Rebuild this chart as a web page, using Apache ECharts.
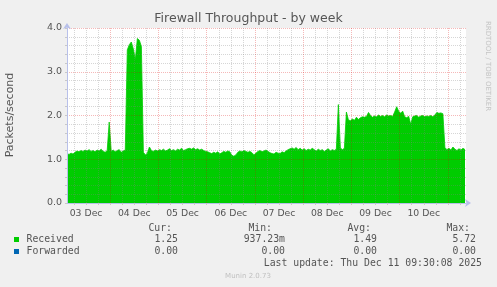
<!DOCTYPE html>
<html><head><meta charset="utf-8">
<script src="https://cdn.jsdelivr.net/npm/echarts@6.0.0/dist/echarts.min.js"></script>
<style>html,body{margin:0;padding:0;background:#f0f0f0;}#c{width:497px;height:287px;}</style>
</head><body><div id="c"></div>
<script>
// hours after 03 Dec 00:00 of the first sample; one sample per hour
const startHour = 2.5;
const stepHours = 1;
const endHour = 201;
const received = [
  1.13, 1.11, 1.14, 1.12, 1.16, 1.19, 1.17, 1.20, 1.18, 1.21,
  1.19, 1.22, 1.18, 1.20, 1.17, 1.21, 1.19, 1.23, 1.18, 1.16, 1.20,
  1.85,
  1.18, 1.21, 1.17, 1.20, 1.22, 1.16, 1.19, 1.21,
  3.50, 3.62, 3.68, 3.52, 3.28, 3.76, 3.72, 3.58,
  1.16, 1.10, 1.14, 1.28, 1.20,
  1.18, 1.21, 1.19, 1.22, 1.20, 1.23, 1.19, 1.21, 1.24, 1.20, 1.22, 1.19, 1.23, 1.21, 1.25, 1.20, 1.22, 1.24,
  1.25, 1.23, 1.26, 1.22, 1.24, 1.21, 1.23, 1.20, 1.18, 1.17,
  1.15, 1.13, 1.16, 1.14, 1.17, 1.12, 1.15, 1.18, 1.16, 1.19,
  1.17, 1.09, 1.07, 1.10, 1.16, 1.19, 1.17, 1.20, 1.18, 1.16,
  1.18, 1.15, 1.10, 1.14, 1.18, 1.20, 1.17, 1.19, 1.21, 1.18,
  1.15, 1.13, 1.12, 1.16, 1.14, 1.13, 1.17, 1.15, 1.19, 1.22,
  1.24, 1.26, 1.23, 1.27, 1.22, 1.25, 1.21, 1.24, 1.20, 1.23,
  1.21, 1.25, 1.22, 1.19, 1.23, 1.20, 1.22, 1.18, 1.21, 1.24, 1.19, 1.22, 1.20, 1.23,
  2.25,
  1.26, 1.22, 1.25,
  2.08,
  1.90, 1.88, 1.92, 1.89, 1.96, 1.91, 1.95, 1.97, 1.96, 1.98,
  2.07, 2.00, 1.96, 1.99, 1.97, 2.01, 1.98, 2.00, 1.97, 2.01,
  1.99, 2.00, 1.98, 2.08, 2.20, 2.10, 2.05, 2.10, 1.97, 1.95,
  1.98, 1.80, 1.97, 1.99, 2.00, 1.96, 1.99, 2.00, 1.97, 1.99,
  1.98, 2.00, 1.97, 2.01, 2.07, 2.05, 2.06, 2.04,
  1.27, 1.22, 1.25, 1.21, 1.28, 1.23, 1.20, 1.24, 1.21, 1.25, 1.22
];
const dayLabels = ['03 Dec', '04 Dec', '05 Dec', '06 Dec', '07 Dec', '08 Dec', '09 Dec', '10 Dec'];
const yMin = 0, yMax = 4, yStep = 1;
const statHeaders = ['Cur:', 'Min:', 'Avg:', 'Max:'];
const seriesNames = ['Received', 'Forwarded'];
const receivedStats = ['1.25', '937.23m', '1.49', '5.72'];
const forwardedStats = ['0.00', '0.00', '0.00', '0.00'];
const lastUpdate = 'Last update: Thu Dec 11 09:30:08 2025';
const titleText = 'Firewall Throughput - by week';
const yName = 'Packets/second';
const sideText = 'RRDTOOL / TOBI OETIKER';
const footer = 'Munin 2.0.73';

const seriesColors = ['#00cc00', '#0066b3'];
const gridHours = [];
for (let h = 6; h < endHour; h += 6) gridHours.push(h);
const labelHours = dayLabels.map((d, i) => 12 + 24 * i);
const points = received.map((v, i) => [startHour + i * stepHours, v]);

const mono = "'DejaVu Sans Mono', monospace";
const sans = "'DejaVu Sans', sans-serif";
const txtColor = '#555555';
const statRight = [178, 285, 377, 476];
const headRight = [172, 272, 371, 470];
const minorC = 'rgba(130,130,130,0.33)';
const majorC = 'rgba(220,0,0,0.28)';

const graphics = [];
graphics.push({type: 'text', x: 10, y: 115, rotation: Math.PI / 2,
  style: {text: yName, font: '11px ' + sans, fill: txtColor, textAlign: 'center', textVerticalAlign: 'middle'}});
graphics.push({type: 'text', x: 488, y: 66, rotation: -Math.PI / 2,
  style: {text: sideText, font: '7px ' + sans, fill: '#c4c4c4', textAlign: 'center', textVerticalAlign: 'middle'}});
statHeaders.forEach((h, i) => graphics.push({type: 'text', x: headRight[i], y: 228,
  style: {text: h, font: '9.8px ' + mono, fill: txtColor, textAlign: 'right', textVerticalAlign: 'middle'}}));
[receivedStats, forwardedStats].forEach((row, r) => {
  const y = 239.5 + r * 12;
  graphics.push({type: 'rect', shape: {x: 14, y: y - 2.5, width: 5, height: 5}, style: {fill: seriesColors[r]}});
  graphics.push({type: 'text', x: 26.5, y: y,
    style: {text: seriesNames[r], font: '9.8px ' + mono, fill: txtColor, textAlign: 'left', textVerticalAlign: 'middle'}});
  row.forEach((v, i) => graphics.push({type: 'text', x: statRight[i], y: y,
    style: {text: v, font: '9.8px ' + mono, fill: txtColor, textAlign: 'right', textVerticalAlign: 'middle'}}));
});
graphics.push({type: 'text', x: 482, y: 263.5,
  style: {text: lastUpdate, font: '9.8px ' + mono, fill: txtColor, textAlign: 'right', textVerticalAlign: 'middle'}});
graphics.push({type: 'text', x: 248, y: 276.5,
  style: {text: footer, font: '7px ' + sans, fill: '#c0c0c0', textAlign: 'center', textVerticalAlign: 'middle'}});

const chart = echarts.init(document.getElementById('c'), null, {renderer: 'canvas'});
chart.setOption({
  animation: false,
  backgroundColor: '#f0f0f0',
  title: {text: titleText, left: 'center', top: 12, padding: 0,
    textStyle: {fontFamily: sans, fontSize: 12.5, fontWeight: 'normal', color: txtColor}},
  grid: {left: 67, right: 31, top: 28, bottom: 84, show: true, backgroundColor: '#ffffff', borderWidth: 0},
  xAxis: {
    type: 'value', min: startHour, max: endHour, z: 3,
    axisLine: {lineStyle: {color: '#b8c0ea', width: 1}, symbol: ['none', 'arrow'], symbolSize: [6, 6], symbolOffset: [0, 5]},
    axisTick: {show: true, customValues: gridHours, length: 2, lineStyle: {color: '#c8c8c8'}},
    axisLabel: {customValues: labelHours, formatter: v => dayLabels[Math.round((v - 12) / 24)],
      fontFamily: sans, fontSize: 9.3, color: txtColor, margin: 6},
    splitLine: {show: true, lineStyle: {color: [minorC, minorC, minorC, majorC], type: [1, 1], width: 1}}
  },
  yAxis: {
    type: 'value', min: yMin, max: yMax, interval: yStep, z: 3,
    axisLine: {show: true, lineStyle: {color: '#b8c0ea', width: 1}, symbol: ['none', 'arrow'], symbolSize: [6, 6], symbolOffset: [0, 5]},
    axisTick: {show: true, length: 2, lineStyle: {color: '#c8c8c8'}},
    minorTick: {show: true, splitNumber: 5, length: 2, lineStyle: {color: '#c8c8c8'}},
    axisLabel: {formatter: v => v.toFixed(1), fontFamily: sans, fontSize: 9.5, color: txtColor, margin: 5},
    splitLine: {show: true, lineStyle: {color: majorC, type: [1, 1], width: 1}},
    minorSplitLine: {show: true, lineStyle: {color: minorC, type: [1, 1], width: 1}}
  },
  series: [{
    name: seriesNames[0], type: 'line', data: points, symbol: 'none', z: 2,
    lineStyle: {color: seriesColors[0], width: 0.8},
    areaStyle: {color: seriesColors[0], opacity: 1}
  }],
  graphic: graphics
});
</script></body></html>
